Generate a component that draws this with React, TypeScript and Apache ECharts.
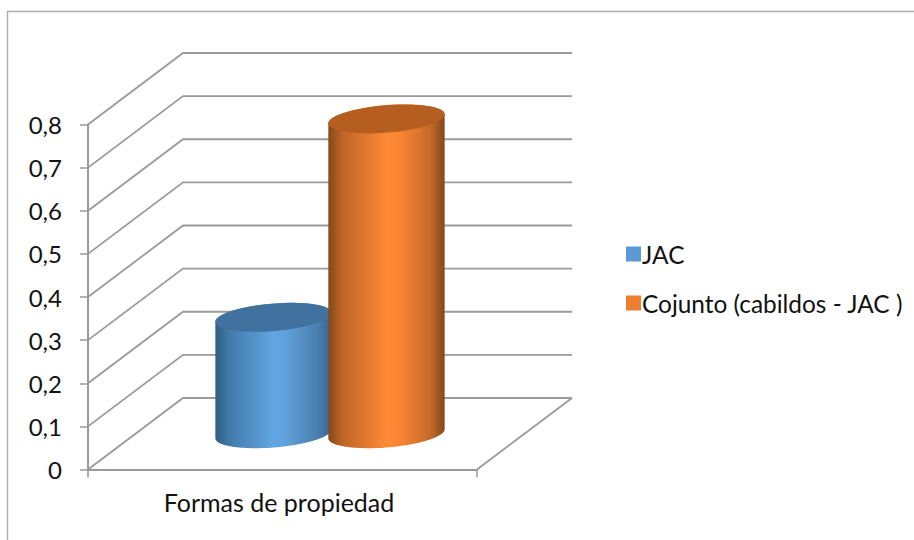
import React, { useEffect, useRef } from "react";
import * as echarts from "echarts";

const categories = ["Formas de propiedad"];
const seriesNames = ["JAC", "Cojunto (cabildos - JAC )"];
const jacValues = [0.27];
const conjuntoValues = [0.73];
const gridTicks = [0, 0.1, 0.2, 0.3, 0.4, 0.5, 0.6, 0.7, 0.8];

const FONT = "Lato, Carlito, sans-serif";
const LINE = "#9a9a9a";
const DEPTH_X = 95;
const DEPTH_Y = -71.5;

function ellipsePoints(cx: number, cy: number, a: number, b: number, r: number, from: number, to: number, n = 64) {
  const pts: number[][] = [];
  for (let i = 0; i <= n; i++) {
    const t = from + ((to - from) * i) / n;
    pts.push([
      cx + a * Math.cos(t) * Math.cos(r) - b * Math.sin(t) * Math.sin(r),
      cy + a * Math.cos(t) * Math.sin(r) + b * Math.sin(t) * Math.cos(r),
    ]);
  }
  return pts;
}

function cylinder(
  seriesPos: number,
  stops: { offset: number; color: string }[],
  capColor: string
) {
  return (params: any, api: any) => {
    const band = api.size([1, 0])[0];
    const top = api.coord([api.value(0), api.value(1)]);
    const base = api.coord([api.value(0), 0]);
    const a = band * 0.15;
    const b = a * 0.235;
    const r = (-4.7 * Math.PI) / 180;
    const cx = top[0] + DEPTH_X / 2 + seriesPos * a * 0.968;
    const cyTop = top[1] + DEPTH_Y / 2;
    const cyBase = base[1] + DEPTH_Y / 2;
    const t0 = Math.atan2((-b / a) * Math.tan(r), 1);
    const topArc = ellipsePoints(cx, cyTop, a, b, r, Math.PI + t0, 2 * Math.PI + t0);
    const baseArc = ellipsePoints(cx, cyBase, a, b, r, t0, Math.PI + t0);
    return {
      type: "group",
      children: [
        {
          type: "polygon",
          shape: { points: topArc.concat(baseArc) },
          style: { fill: new echarts.graphic.LinearGradient(0, 0, 1, 0, stops), stroke: "none" },
        },
        {
          type: "polygon",
          shape: { points: ellipsePoints(cx, cyTop, a, b, r, 0, 2 * Math.PI) },
          style: { fill: capColor, stroke: "none" },
        },
      ],
    };
  };
}

function renderWall(params: any, api: any) {
  const cs = params.coordSys;
  const y = api.coord([0, api.value(1)])[1];
  const isBase = api.value(1) === 0;
  const lineStyle = { stroke: LINE, lineWidth: 1.8, fill: "none" };
  const children: any[] = [
    {
      type: "polyline",
      shape: {
        points: [
          [cs.x, y],
          [cs.x + DEPTH_X, y + DEPTH_Y],
          [cs.x + cs.width + DEPTH_X, y + DEPTH_Y],
        ],
      },
      style: lineStyle,
    },
  ];
  if (isBase) {
    children.push({
      type: "line",
      shape: { x1: cs.x + cs.width, y1: y, x2: cs.x + cs.width + DEPTH_X, y2: y + DEPTH_Y },
      style: lineStyle,
    });
  }
  return { type: "group", children };
}

export default function App() {
  const ref = useRef<HTMLDivElement>(null);
  useEffect(() => {
    document.body.style.margin = "0";
    const chart = echarts.init(ref.current!, undefined, { renderer: "svg" });
    chart.setOption({
      animation: false,
      backgroundColor: "#ffffff",
      grid: { left: 88, top: 124.5, width: 389, height: 345, containLabel: false },
      graphic: [
        {
          type: "polyline",
          silent: true,
          shape: { points: [[7.5, 540], [7.5, 11.5], [914, 11.5]] },
          style: { stroke: "#adadad", lineWidth: 1.4, fill: "none" },
        },
      ],
      legend: {
        orient: "vertical",
        left: 621,
        top: 237,
        icon: "rect",
        itemWidth: 15,
        itemHeight: 15,
        itemGap: 25,
        data: seriesNames,
        textStyle: { fontFamily: FONT, fontSize: 24.4, color: "#111111", padding: [0, 0, 0, -4] },
      },
      xAxis: {
        type: "category",
        data: categories,
        axisLine: { lineStyle: { color: LINE, width: 2 } },
        axisTick: { show: true, alignWithLabel: false, length: 8, lineStyle: { color: LINE, width: 1.5 } },
        axisLabel: { fontFamily: FONT, fontSize: 25, color: "#111111", margin: 20, padding: [0, 7, 0, 0] },
      },
      yAxis: {
        type: "value",
        min: 0,
        max: 0.8,
        interval: 0.1,
        splitLine: { show: false },
        axisLine: { show: true, lineStyle: { color: LINE, width: 2 } },
        axisTick: { show: true, length: 8, lineStyle: { color: LINE, width: 1.5 } },
        axisLabel: {
          fontFamily: FONT,
          fontSize: 24,
          color: "#111111",
          margin: 26,
          formatter: (v: number) => String(Number(v.toFixed(1))).replace(".", ","),
        },
      },
      series: [
        {
          type: "custom",
          name: "wall",
          silent: true,
          z: 1,
          renderItem: renderWall,
          encode: { x: 0, y: 1 },
          data: gridTicks.map((t) => [0, t]),
        },
        {
          type: "custom",
          name: seriesNames[0],
          silent: true,
          z: 2,
          itemStyle: { color: "#5B9BD5" },
          renderItem: cylinder(
            -1,
            [
              { offset: 0, color: "#2f5e86" },
              { offset: 0.12, color: "#427aa9" },
              { offset: 0.5, color: "#62a6e3" },
              { offset: 0.62, color: "#5f9fd9" },
              { offset: 0.88, color: "#4a7fae" },
              { offset: 1, color: "#33648f" },
            ],
            "#41719f"
          ),
          encode: { x: 0, y: 1 },
          data: jacValues.map((v, i) => [i, v]),
        },
        {
          type: "custom",
          name: seriesNames[1],
          silent: true,
          z: 3,
          itemStyle: { color: "#ED7D31" },
          renderItem: cylinder(
            1,
            [
              { offset: 0, color: "#84471a" },
              { offset: 0.12, color: "#bd6526" },
              { offset: 0.5, color: "#ff8a36" },
              { offset: 0.62, color: "#f98433" },
              { offset: 0.88, color: "#c36a2a" },
              { offset: 1, color: "#84481c" },
            ],
            "#b55e20"
          ),
          encode: { x: 0, y: 1 },
          data: conjuntoValues.map((v, i) => [i, v]),
        },
      ],
    });
    return () => chart.dispose();
  }, []);
  return <div ref={ref} style={{ width: 914, height: 540 }} />;
}
